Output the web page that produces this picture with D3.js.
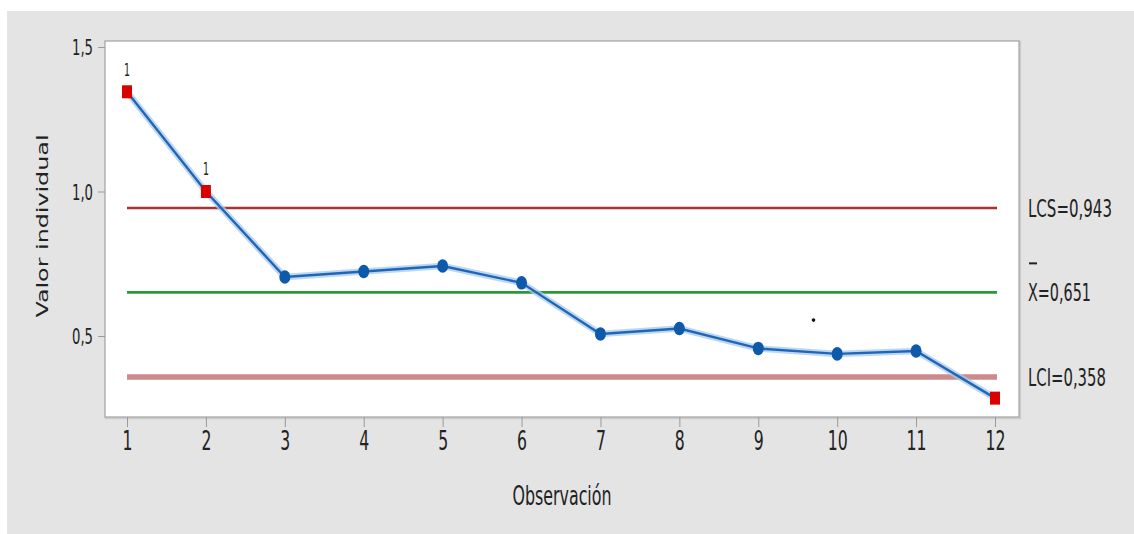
<!DOCTYPE html>
<html>
<head>
<meta charset="utf-8">
<script src="https://cdn.jsdelivr.net/npm/d3@7"></script>
<style>
  html, body { margin: 0; padding: 0; background: #ffffff; }
  svg { display: block; }
  text { font-family: "DejaVu Sans", "Liberation Sans", sans-serif; fill: #222; }
</style>
</head>
<body>
<svg id="chart" width="1134" height="534"></svg>
<script>
// Individual-values control chart (I chart)
const observations = [1, 2, 3, 4, 5, 6, 7, 8, 9, 10, 11, 12];
const values = [1.345, 1.000, 0.704, 0.723, 0.742, 0.684, 0.507, 0.526, 0.457, 0.438, 0.448, 0.285];
const outOfControl = [true, true, false, false, false, false, false, false, false, false, false, true];
const flagLabels = ["1", "1", "", "", "", "", "", "", "", "", "", ""];
const xTicks = [1, 2, 3, 4, 5, 6, 7, 8, 9, 10, 11, 12];
const yTicks = [0.5, 1.0, 1.5];
const limitNames = ["LCS", "X", "LCI"];
const limitValues = [0.943, 0.651, 0.358];
const strayDot = [9.70, 0.555];

const svg = d3.select("#chart");
const fmt = v => d3.format(".1f")(v).replace(".", ",");
const fmt3 = v => d3.format(".3f")(v).replace(".", ",");

// condensed look: scale each text horizontally to a target width
function squeeze(sel, widthOf) {
  sel.each(function (d, i) {
    const t = d3.select(this);
    const natural = this.getComputedTextLength();
    const target = typeof widthOf === "function" ? widthOf(t.text(), i) : widthOf;
    const s = target / natural;
    const x0 = +t.attr("x") || 0;
    t.attr("x", 0).attr("transform", `translate(${x0},0) scale(${s},1)`);
  });
}

// panel background
svg.append("rect").attr("x", 7).attr("y", 11).attr("width", 1127).attr("height", 523).attr("fill", "#e4e4e4");

const frame = { left: 105, top: 41, right: 1019, bottom: 417 };
const x = d3.scaleLinear().domain([1, 12]).range([127, 995]);
const y = d3.scaleLinear().domain([0.5, 1.5]).range([336, 47]);

// plot area
svg.append("rect")
  .attr("x", frame.left + 1).attr("y", frame.top + 1)
  .attr("width", frame.right - frame.left).attr("height", frame.bottom - frame.top)
  .attr("fill", "none").attr("stroke", "#cdcdcd").attr("stroke-width", 2.5);
svg.append("rect")
  .attr("x", frame.left).attr("y", frame.top)
  .attr("width", frame.right - frame.left).attr("height", frame.bottom - frame.top)
  .attr("fill", "#ffffff").attr("stroke", "#a9a9a9").attr("stroke-width", 1.3);

// axes
const yAxis = d3.axisLeft(y).tickValues(yTicks).tickFormat(fmt).tickSize(7).tickPadding(5);
const gy = svg.append("g").attr("transform", `translate(${frame.left},0)`).call(yAxis);
gy.select(".domain").remove();
gy.selectAll(".tick line").attr("stroke", "#9a9a9a");
gy.selectAll(".tick text").attr("font-size", 22).attr("fill", "#1e1e1e").attr("dy", "0.36em")
  .call(squeeze, 21);

const xAxis = d3.axisBottom(x).tickValues(xTicks).tickFormat(d3.format("d")).tickSize(10).tickPadding(6);
const gx = svg.append("g").attr("transform", `translate(0,${frame.bottom})`).call(xAxis);
gx.select(".domain").remove();
gx.selectAll(".tick line").attr("stroke", "#9a9a9a");
gx.selectAll(".tick text").attr("font-size", 27).attr("fill", "#222").attr("dy", "0.62em")
  .call(squeeze, txt => txt.length * 10);

// axis titles
svg.append("text").attr("x", 562).attr("y", 505).attr("text-anchor", "middle")
  .attr("font-size", 26).text("Observación")
  .call(squeeze, 99);
svg.append("text").attr("transform", "translate(48,226) rotate(-90)").attr("text-anchor", "middle")
  .attr("font-size", 16).attr("fill", "#111").attr("textLength", 183).attr("lengthAdjust", "spacingAndGlyphs")
  .text("Valor individual");

// control limit lines
const limitStyles = [
  { color: "#a83232", width: 2.6 },
  { color: "#2a9a35", width: 2.6 },
  { color: "#cc8a8a", width: 5.5 }
];
limitValues.forEach((v, i) => {
  svg.append("line")
    .attr("x1", x(1)).attr("x2", x(12) + 2)
    .attr("y1", y(v)).attr("y2", y(v))
    .attr("stroke", limitStyles[i].color).attr("stroke-width", limitStyles[i].width);
});

// data line with soft halo
const pts = observations.map((o, i) => [x(o), y(values[i])]);
const line = d3.line();
svg.append("path").attr("d", line(pts)).attr("fill", "none")
  .attr("stroke", "#a8c9ec").attr("stroke-width", 6.5).attr("opacity", 0.75);
svg.append("path").attr("d", line(pts)).attr("fill", "none")
  .attr("stroke", "#1f66b8").attr("stroke-width", 2.4);

// points
observations.forEach((o, i) => {
  if (outOfControl[i]) {
    svg.append("rect").attr("x", x(o) - 5).attr("y", y(values[i]) - 6.5)
      .attr("width", 10).attr("height", 13).attr("fill", "#d90000");
  } else {
    svg.append("ellipse").attr("cx", x(o)).attr("cy", y(values[i]))
      .attr("rx", 5.5).attr("ry", 6.8).attr("fill", "#0d5aab");
  }
  if (flagLabels[i]) {
    svg.append("text").attr("x", x(o)).attr("y", y(values[i]) - 16)
      .attr("text-anchor", "middle").attr("font-size", 17).attr("fill", "#8a8a8a")
      .text(flagLabels[i])
      .call(squeeze, 6);
  }
});

// stray mark
svg.append("circle").attr("cx", x(strayDot[0])).attr("cy", y(strayDot[1])).attr("r", 1.8).attr("fill", "#111");

// limit labels on the right
const labelWidths = [84, 63, 78];
limitValues.forEach((v, i) => {
  svg.append("text").attr("x", 1028).attr("y", y(v) + 9)
    .attr("font-size", 24)
    .text(`${limitNames[i]}=${fmt3(v)}`)
    .call(squeeze, labelWidths[i]);
});
// bar over X
svg.append("line").attr("x1", 1029).attr("x2", 1037)
  .attr("y1", y(limitValues[1]) - 29).attr("y2", y(limitValues[1]) - 29)
  .attr("stroke", "#222").attr("stroke-width", 2);
</script>
</body>
</html>
